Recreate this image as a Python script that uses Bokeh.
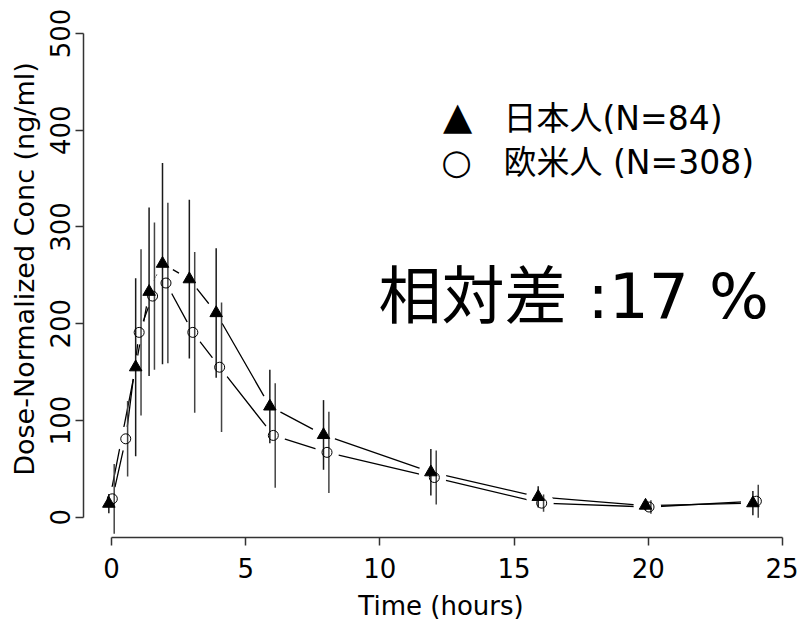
import math
from bokeh.plotting import figure
from bokeh.models import Label, FixedTicker, Range1d
from bokeh.embed import file_html
from bokeh.resources import INLINE

# ---- data ----
jp_time = [0, 1, 1.5, 2, 3, 4, 6, 8, 12, 16, 20, 24]
jp_mean = [14, 155, 233, 262, 246, 211, 114.5, 85, 46.5, 21, 12, 14.5]
jp_sd = [10, 92, 87, 104, 82, 67, 38, 36, 24, 11, 5, 12.5]

us_time = [0, 0.5, 1, 1.5, 2, 3, 4, 6, 8, 12, 16, 20, 24]
us_mean = [19, 81, 191, 228.5, 242, 191, 155, 84.5, 67, 41, 14.5, 10.5, 16.5]
us_sd = [36, 39, 86, 76, 83, 83, 67, 54, 42, 28, 9, 7, 17]

x_ticks = [0, 5, 10, 15, 20, 25]
y_ticks = [0, 100, 200, 300, 400, 500]

legend_labels = ["日本人(N=84)", "欧米人 (N=308)"]
diff_label = "相対差 :17 %"
x_label = "Time (hours)"
y_label = "Dose-Normalized Conc (ng/ml)"

# ---- style ----
JP_DODGE = -0.1
US_DODGE = 0.03
US_BAR_DODGE = 0.1
LATIN = "DejaVu Sans"
MIXED = "'DejaVu Sans', 'Noto Sans CJK JP'"

p = figure(width=798, height=623, output_backend="svg", toolbar_location=None,
           x_range=Range1d(-1.044, 25.6), y_range=Range1d(-21, 534),
           min_border_left=83, min_border_right=0, min_border_top=0,
           min_border_bottom=86)
p.outline_line_color = None
p.xgrid.visible = False
p.ygrid.visible = False
p.background_fill_color = "white"

jp_x = [t + JP_DODGE for t in jp_time]
us_x = [t + US_DODGE for t in us_time]
us_bx = [t + US_BAR_DODGE for t in us_time]

# lines (R type="b": gaps around the points)
p.line(jp_x, jp_mean, line_color="black", line_width=1.3)
p.line(us_x, us_mean, line_color="black", line_width=1.3)
p.scatter(jp_x, jp_mean, size=24, fill_color="white", line_color=None)
p.scatter(us_x, us_mean, size=24, fill_color="white", line_color=None)

# error bars (mean +/- SD)
p.segment(x0=jp_x, y0=[m - s for m, s in zip(jp_mean, jp_sd)],
          x1=jp_x, y1=[m + s for m, s in zip(jp_mean, jp_sd)],
          line_color="#1a1a1a", line_width=1.5)
p.segment(x0=us_bx, y0=[m - s for m, s in zip(us_mean, us_sd)],
          x1=us_bx, y1=[m + s for m, s in zip(us_mean, us_sd)],
          line_color="#444444", line_width=1.5)

# markers
p.scatter(jp_x, jp_mean, marker="triangle", size=12.5, fill_color="black",
          line_color="black")
p.scatter(us_x, us_mean, marker="circle", size=10, fill_color=None,
          line_color="black", line_width=1)

# axes (R style, detached)
for ax in (p.xaxis[0], p.yaxis[0]):
    ax.axis_line_color = "#333333"
    ax.axis_line_width = 1.5
    ax.major_tick_line_color = "#333333"
    ax.major_tick_line_width = 1.5
    ax.major_tick_out = 8
    ax.major_tick_in = 0
    ax.minor_tick_out = 0
    ax.minor_tick_in = 0
    ax.major_label_text_font = LATIN
    ax.major_label_text_font_size = "26px"
    ax.major_label_text_color = "black"
    ax.axis_label_text_font = LATIN
    ax.axis_label_text_font_style = "normal"
    ax.axis_label_text_color = "black"

p.xaxis.ticker = FixedTicker(ticks=x_ticks)
p.yaxis.ticker = FixedTicker(ticks=y_ticks)
p.xaxis.bounds = (x_ticks[0], x_ticks[-1])
p.yaxis.bounds = (y_ticks[0], y_ticks[-1])
p.xaxis.major_label_standoff = 12
p.yaxis.major_label_standoff = 5
p.yaxis.major_label_orientation = "vertical"

p.xaxis.axis_label = x_label
p.xaxis.axis_label_text_font_size = "26px"
p.xaxis.axis_label_standoff = 10
p.yaxis.axis_label = y_label
p.yaxis.axis_label_text_font_size = "27px"
p.yaxis.axis_label_standoff = 8

# legend
p.add_layout(Label(x=374, y=422, x_units="screen", y_units="screen", text="▲",
                   text_align="center", text_baseline="alphabetic",
                   text_font=LATIN, text_font_size="38px", text_color="black"))
p.add_layout(Label(x=373, y=376, x_units="screen", y_units="screen", text="○",
                   text_align="center", text_baseline="alphabetic",
                   text_font=LATIN, text_font_size="35px", text_color="black",
                   text_font_style="bold"))
p.add_layout(Label(x=420, y=419, x_units="screen", y_units="screen",
                   text=legend_labels[0], text_align="left", text_baseline="alphabetic",
                   text_font=MIXED, text_font_size="33px", text_color="black"))
p.add_layout(Label(x=420, y=375, x_units="screen", y_units="screen",
                   text=legend_labels[1], text_align="left", text_baseline="alphabetic",
                   text_font=MIXED, text_font_size="33px", text_color="black"))

# relative difference
p.add_layout(Label(x=295, y=241, x_units="screen", y_units="screen", text=diff_label,
                   text_align="left", text_baseline="alphabetic",
                   text_font=MIXED, text_font_size="63px", text_color="black"))

open("out.html", "w").write(file_html(p, INLINE))
